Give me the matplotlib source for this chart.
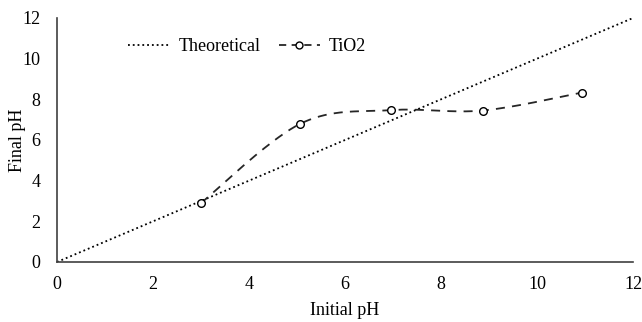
import numpy as np
import matplotlib
matplotlib.use("Agg")
import matplotlib.pyplot as plt

plt.rcParams['font.family'] = ['Liberation Serif', 'DejaVu Serif']

# theoretical line (final = initial)
theo_x = [0, 12]
theo_y = [0, 12]

# measured TiO2 points
tio2_x = [3.0, 5.07, 6.95, 8.87, 10.93]
tio2_y = [2.9, 6.8, 7.47, 7.45, 8.33]


def smooth(xs, ys, n=40):
    # excel-like smoothed line: bezier through points, catmull-rom tangents
    xs = np.asarray(xs, float)
    ys = np.asarray(ys, float)
    px = np.concatenate([[xs[0]], xs, [xs[-1]]])
    py = np.concatenate([[ys[0]], ys, [ys[-1]]])
    outx, outy = [], []
    t = np.linspace(0, 1, n)
    for i in range(1, len(px) - 2):
        p0 = np.array([px[i], py[i]])
        p3 = np.array([px[i + 1], py[i + 1]])
        c1 = p0 + (np.array([px[i + 1], py[i + 1]]) - np.array([px[i - 1], py[i - 1]])) / 6
        c2 = p3 - (np.array([px[i + 2], py[i + 2]]) - np.array([px[i], py[i]])) / 6
        b = ((1 - t) ** 3)[:, None] * p0 + (3 * (1 - t) ** 2 * t)[:, None] * c1 \
            + (3 * (1 - t) * t ** 2)[:, None] * c2 + (t ** 3)[:, None] * p3
        outx.extend(b[:, 0])
        outy.extend(b[:, 1])
    return outx, outy


fig = plt.figure(figsize=(6.42, 3.22), dpi=100)
ax = fig.add_axes([57 / 642, 60 / 322, 576 / 642, 244 / 322])

ax.plot(theo_x, theo_y, ':', color='black', lw=1.3, label='Theoretical')
sx, sy = smooth(tio2_x, tio2_y)
ax.plot(sx, sy, '--', color='#262626', lw=1.3, dashes=(5, 4))
ax.plot(tio2_x, tio2_y, 'o', mfc='white', mec='black', ms=5.5, mew=1)
ax.plot([], [], '--o', color='#262626', mfc='white', mec='black', ms=5, lw=1.3,
        dashes=(4, 3), label='TiO2')

ax.set_xlim(0, 12)
ax.set_ylim(0, 12)
ax.set_xticks(range(0, 13, 2))
ax.set_yticks(range(0, 13, 2))
ax.tick_params(axis='x', length=0, labelsize=13, pad=10)
ax.tick_params(axis='y', length=0, labelsize=13, pad=12)
for s in ['top', 'right']:
    ax.spines[s].set_visible(False)
for s in ['left', 'bottom']:
    ax.spines[s].set_color('#404040')
    ax.spines[s].set_linewidth(1.2)

ax.set_xlabel('Initial pH', fontsize=13)
ax.set_ylabel('Final pH', fontsize=13)
ax.xaxis.set_label_coords(0.5, -0.2)
ax.yaxis.set_label_coords(-0.069, 0.5)
ax.xaxis.label.set_va('center')
ax.yaxis.label.set_va('center')

ax.legend(loc='upper left', bbox_to_anchor=(0.095, 0.985), ncol=2, frameon=False,
          fontsize=13, handlelength=2.3, columnspacing=1.0, handletextpad=0.5)

fig.savefig('out.png', dpi=100)
